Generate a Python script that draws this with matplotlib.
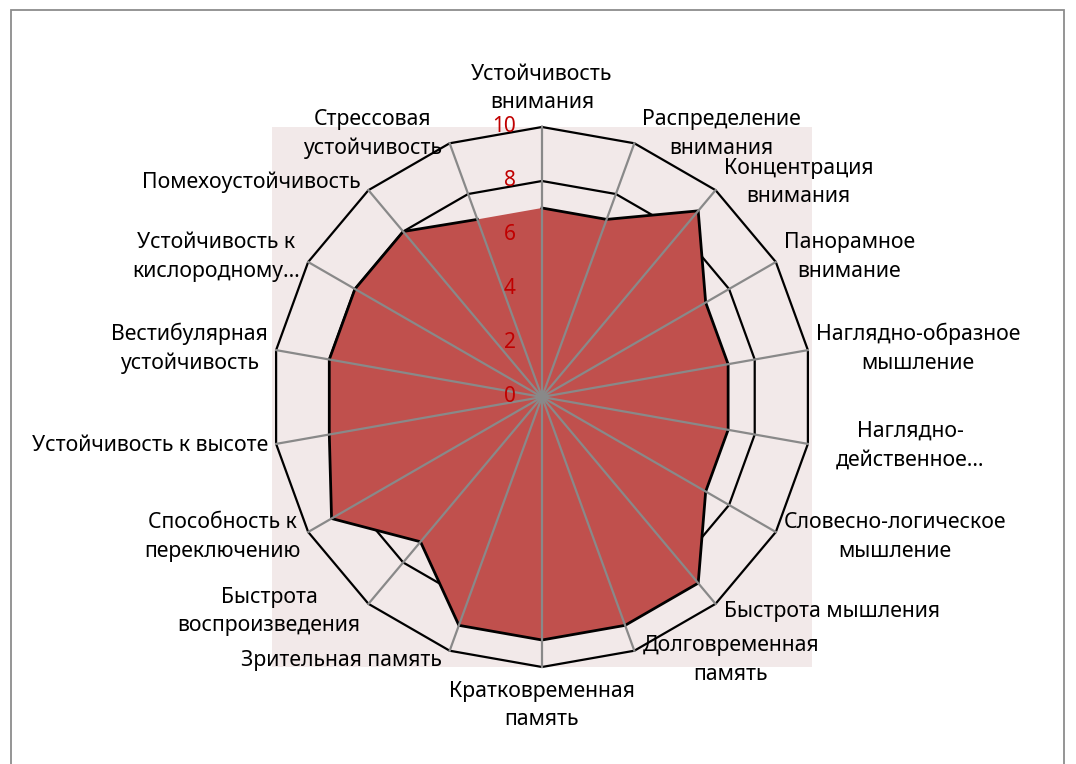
import numpy as np
import matplotlib.pyplot as plt
from matplotlib.patches import Rectangle

plt.rcParams["font.family"] = ["Noto Sans", "DejaVu Sans"]

# ───────────────────────── data ─────────────────────────
categories = [
    "Устойчивость\nвнимания",
    "Распределение\nвнимания",
    "Концентрация\nвнимания",
    "Панорамное\nвнимание",
    "Наглядно-образное\nмышление",
    "Наглядно-\nдейственное…",
    "Словесно-логическое\nмышление",
    "Быстрота мышления",
    "Долговременная\nпамять",
    "Кратковременная\nпамять",
    "Зрительная память",
    "Быстрота\nвоспроизведения",
    "Способность к\nпереключению",
    "Устойчивость к высоте",
    "Вестибулярная\nустойчивость",
    "Устойчивость к\nкислородному…",
    "Помехоустойчивость",
    "Стрессовая\nустойчивость",
]
values = [7, 7, 9, 7, 7, 7, 7, 9, 9, 9, 9, 7, 9, 8, 8, 8, 8, 7]
ticks = [0, 2, 4, 6, 8, 10]

# ──────────────────────── styling ───────────────────────
PINK = "#F2E9E9"
RED = "#C0504D"
SPOKE = "#898989"
TICK_RED = "#C00000"

W, H, DPI = 1076, 764, 100
PX = 1 / 27  # data units per pixel (radius 10 -> 270 px)

# truncated label sits in a wider box in Excel -> pushed a bit outwards
nudge = {5: (20, 0)}

fig = plt.figure(figsize=(W / DPI, H / DPI), dpi=DPI)
fig.patches.append(
    Rectangle((11 / W, -0.02), 1053 / W, 1 - 10 / H + 0.02, transform=fig.transFigure,
              fill=False, edgecolor="#8c8c8c", lw=1.3)
)

ax = fig.add_axes([272 / W, 1 - 667 / H, 540 / W, 540 / H])
ax.set_facecolor(PINK)
ax.set_xlim(-10, 10)
ax.set_ylim(-10, 10)
ax.set_xticks([])
ax.set_yticks([])
for s in ax.spines.values():
    s.set_visible(False)

n = len(categories)
theta = np.arange(n) * 2 * np.pi / n
sx, sy = np.sin(theta), np.cos(theta)
vals = np.array(values, dtype=float)
rmax = ticks[-1]

# polygon gridlines
for t in ticks[1:]:
    ax.plot(np.append(t * sx, t * sx[0]), np.append(t * sy, t * sy[0]),
            color="black", lw=1.6, zorder=1, clip_on=False)

# filled series + outline (outline is not closed, like the original)
ax.fill(vals * sx, vals * sy, color=RED, lw=0, zorder=2)
ax.plot(vals * sx, vals * sy, color="black", lw=2.0, zorder=3,
        solid_joinstyle="miter")

# spokes
for x, y in zip(sx, sy):
    ax.plot([0, rmax * x], [0, rmax * y], color=SPOKE, lw=1.6, zorder=4,
            clip_on=False)

# value axis labels
for t in ticks:
    ax.text(-26 * PX, t, str(t), ha="right", va="center", color=TICK_RED,
            fontsize=15, zorder=5)

# category labels
for i, (lab, x, y) in enumerate(zip(categories, sx, sy)):
    vx, vy = rmax * x, rmax * y
    dx, dy = nudge.get(i, (0, 0))
    if abs(x) < 0.01:
        ha = "center"
        if y > 0:
            va, py = "bottom", vy + 14 * PX
        else:
            va, py = "top", vy - 14 * PX
        px = vx
    else:
        ha = "left" if x > 0 else "right"
        px = vx + (8 * PX if x > 0 else -8 * PX)
        va = "center"
        py = vy + 10 * y * PX
    ax.text(px + dx * PX, py - dy * PX, lab, ha=ha, va=va, multialignment="center",
            fontsize=15.3, linespacing=1.46, color="black", zorder=5, clip_on=False)

fig.savefig("out.png", dpi=DPI)
